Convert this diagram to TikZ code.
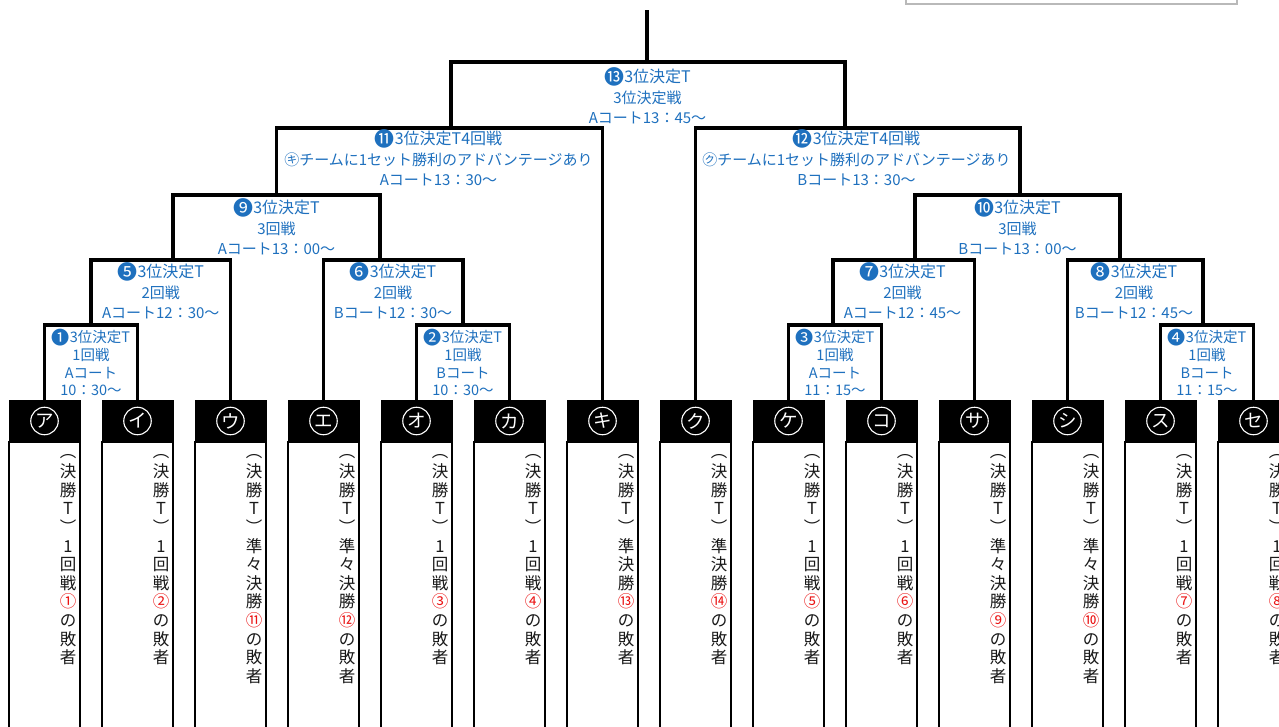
\documentclass[tikz,border=0pt]{standalone}
\usepackage{fontspec}
\setmainfont{Noto Sans CJK JP}
\definecolor{tblue}{RGB}{30,112,190}
\definecolor{vgray}{RGB}{25,25,25}
\definecolor{nred}{RGB}{235,20,20}
\newcommand{\rn}[1]{{\color{nred}#1}}
\newcommand{\bn}[1]{\raisebox{-0.1em}{\scalebox{1.25}{#1}}}
\newcommand{\hl}[1]{{\fontsize{16}{20.5}\selectfont #1}}
\begin{document}
\begin{tikzpicture}[x=1pt,y=-1pt,
  conn/.style={line width=3.4pt, line join=miter},
  lbl/.style={text=tblue, align=center, inner sep=0pt, font=\fontsize{15}{20.5}\selectfont},
  lbls/.style={text=tblue, align=center, inner sep=0pt, font=\fontsize{14.5}{17.7}\selectfont},
  hdr/.style={fill=black, draw=black, line width=1pt, minimum width=71pt, minimum height=42pt, inner sep=0pt},
  kcirc/.style={circle, draw=white, line width=1.1pt, minimum size=27.5pt, inner sep=0pt, text=white, font=\fontsize{18.5}{18.5}\selectfont},
  colbody/.style={draw=black, line width=1.5pt, fill=white},
  vt/.style={anchor=north, align=center, inner sep=0pt, text=vgray, font=\fontsize{16.5}{18.6}\selectfont}]
\useasboundingbox (0,0) rectangle (1279,727);
\clip (0,0) rectangle (1279,727);
\fill[white] (0,0) rectangle (1279,727);

% grey box at top right
\draw[gray!55, line width=1.5pt] (906,-20) rectangle (1237,4);

% columns
\foreach \k [count=\i from 0] in {ア,イ,ウ,エ,オ,カ,キ,ク,ケ,コ,サ,シ,ス,セ} {
  \draw[colbody] (9+93*\i,442) rectangle (80+93*\i,760);
  \node[hdr] (h\i) at (44.5+93*\i,421) {};
  \node[kcirc] (k\i) at (h\i) {\k};
}

% vertical texts
\newcommand{\vcol}[2]{\node[vt] (v#1) at (68+93*#1,444) {\strut ︵\\決\\勝\\T\\︶\\#2\\の\\敗\\者};}
\vcol{0}{1\\回\\戦\\\rn{①}}
\vcol{1}{1\\回\\戦\\\rn{②}}
\vcol{2}{準\\々\\決\\勝\\\rn{⑪}}
\vcol{3}{準\\々\\決\\勝\\\rn{⑫}}
\vcol{4}{1\\回\\戦\\\rn{③}}
\vcol{5}{1\\回\\戦\\\rn{④}}
\vcol{6}{準\\決\\勝\\\rn{⑬}}
\vcol{7}{準\\決\\勝\\\rn{⑭}}
\vcol{8}{1\\回\\戦\\\rn{⑤}}
\vcol{9}{1\\回\\戦\\\rn{⑥}}
\vcol{10}{準\\々\\決\\勝\\\rn{⑨}}
\vcol{11}{準\\々\\決\\勝\\\rn{⑩}}
\vcol{12}{1\\回\\戦\\\rn{⑦}}
\vcol{13}{1\\回\\戦\\\rn{⑧}}

% match connection points
\coordinate (m1) at (91,325);
\coordinate (m2) at (463,325);
\coordinate (m3) at (833,325);
\coordinate (m4) at (1203,325);
\coordinate (m5) at (173,260);
\coordinate (m6) at (380,260);
\coordinate (m7) at (915,260);
\coordinate (m8) at (1120,260);
\coordinate (m9) at (276.5,195);
\coordinate (m10) at (1020,195);
\coordinate (m11) at (451,128);
\coordinate (m12) at (845,128);
\coordinate (m13) at (647,62);
\coordinate (top) at (647,10);

% brackets
\draw[conn] (h0.north) |- (m1) -| (h1.north);
\draw[conn] (h4.north) |- (m2) -| (h5.north);
\draw[conn] (h8.north) |- (m3) -| (h9.north);
\draw[conn] (h12.north) |- (m4) -| (h13.north);
\draw[conn] (m1) |- (m5) -| (h2.north);
\draw[conn] (h3.north) |- (m6) -| (m2);
\draw[conn] (m3) |- (m7) -| (h10.north);
\draw[conn] (h11.north) |- (m8) -| (m4);
\draw[conn] (m5) |- (m9) -| (m6);
\draw[conn] (m7) |- (m10) -| (m8);
\draw[conn] (m9) |- (m11) -| (h6.north);
\draw[conn] (h7.north) |- (m12) -| (m10);
\draw[conn] (m11) |- (m13) -| (m12);
\draw[conn] (m13) -- (top);

% labels
\node[lbl] (t13) at (647.5,96) {\hl{\bn{⓭}3位決定T}\\3位決定戦\\Aコート13：45〜};
\node[lbl] (t11) at (438.5,158) {\hl{\bn{⓫}3位決定T4回戦}\\㋖チームに1セット勝利のアドバンテージあり\\Aコート13：30〜};
\node[lbl] (t12) at (856.5,158) {\hl{\bn{⓬}3位決定T4回戦}\\㋗チームに1セット勝利のアドバンテージあり\\Bコート13：30〜};
\node[lbl] (t9) at (276.5,227) {\hl{\bn{❾}3位決定T}\\3回戦\\Aコート13：00〜};
\node[lbl] (t10) at (1017.5,227) {\hl{\bn{❿}3位決定T}\\3回戦\\Bコート13：00〜};
\node[lbl] (t5) at (160.75,291) {\hl{\bn{❺}3位決定T}\\2回戦\\Aコート12：30〜};
\node[lbl] (t6) at (393,291) {\hl{\bn{❻}3位決定T}\\2回戦\\Bコート12：30〜};
\node[lbl] (t7) at (902.5,291) {\hl{\bn{❼}3位決定T}\\2回戦\\Aコート12：45〜};
\node[lbl] (t8) at (1134,291) {\hl{\bn{❽}3位決定T}\\2回戦\\Bコート12：45〜};
\node[lbls] (t1) at (91,362.5) {\bn{❶}3位決定T\\1回戦\\Aコート\\10：30〜};
\node[lbls] (t2) at (463,362.5) {\bn{❷}3位決定T\\1回戦\\Bコート\\10：30〜};
\node[lbls] (t3) at (835,362.5) {\bn{❸}3位決定T\\1回戦\\Aコート\\11：15〜};
\node[lbls] (t4) at (1207,362.5) {\bn{❹}3位決定T\\1回戦\\Bコート\\11：15〜};
\end{tikzpicture}
\end{document}
